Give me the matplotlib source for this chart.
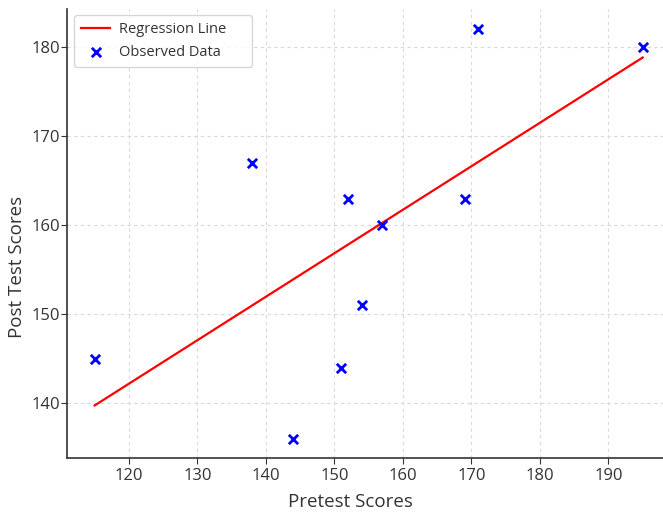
import numpy as np
import matplotlib
matplotlib.use("Agg")
import matplotlib.pyplot as plt

plt.rcParams['font.family'] = ['Open Sans', 'DejaVu Sans']

pretest = [115, 138, 144, 151, 152, 154, 157, 169, 171, 195]
posttest = [145, 167, 136, 144, 163, 151, 160, 163, 182, 180]

x = np.array(pretest, dtype=float)
y = np.array(posttest, dtype=float)
slope, intercept = np.polyfit(x, y, 1)
xs = np.array([x.min(), x.max()])

W, H = 663, 512
fig = plt.figure(figsize=(W / 100, H / 100), dpi=100)
# axes spans past the right edge of the figure (reference is cropped there)
left_px, right_px, top_px, bottom_px = 67.3, 670.1, 9.0, 458.3
ax = fig.add_axes([left_px / W, 1 - bottom_px / H, (right_px - left_px) / W, (bottom_px - top_px) / H])
ax.plot(xs, slope * xs + intercept, color='red', lw=1.6, label='Regression Line', zorder=3)
ax.scatter(x, y, marker='x', color='blue', s=45, linewidths=2, label='Observed Data', zorder=4)

ax.set_xlim(111, 199)
ax.set_ylim(133.8, 184.3)
ax.set_xticks([120, 130, 140, 150, 160, 170, 180, 190])
ax.set_yticks([140, 150, 160, 170, 180])
ax.grid(True, linestyle=(0, (3, 3)), color='#d9d9d9', lw=0.8)
ax.set_axisbelow(True)
for s in ['top', 'right']:
    ax.spines[s].set_visible(False)
for s in ['left', 'bottom']:
    ax.spines[s].set_color('#333333')
    ax.spines[s].set_linewidth(1.2)
ax.tick_params(labelsize=12, colors='#333333', length=4)
ax.tick_params(axis='y', pad=1.5)
ax.tick_params(axis='x', pad=3)
ax.set_xlabel('Pretest Scores', fontsize=13.5, color='#333333')
ax.set_ylabel('Post Test Scores', fontsize=13.5, color='#333333')
ax.xaxis.set_label_coords(0.469, -0.078)
ax.yaxis.set_label_coords(-0.068, 0.426)

AW = right_px - left_px
AH = bottom_px - top_px
lx0 = (74 - left_px) / AW
lw_ = (252 - 74) / AW
ltop = 1 - (15 - top_px) / AH
lh = (62 - 15) / AH
ax.legend(loc='upper left', bbox_to_anchor=(lx0, ltop - lh, lw_, lh), mode='expand',
          borderaxespad=0, fontsize=10.5, frameon=True, labelcolor='#333333',
          borderpad=0.5, handlelength=2.0, handletextpad=0.6)
fig.savefig('out.png', dpi=100)
